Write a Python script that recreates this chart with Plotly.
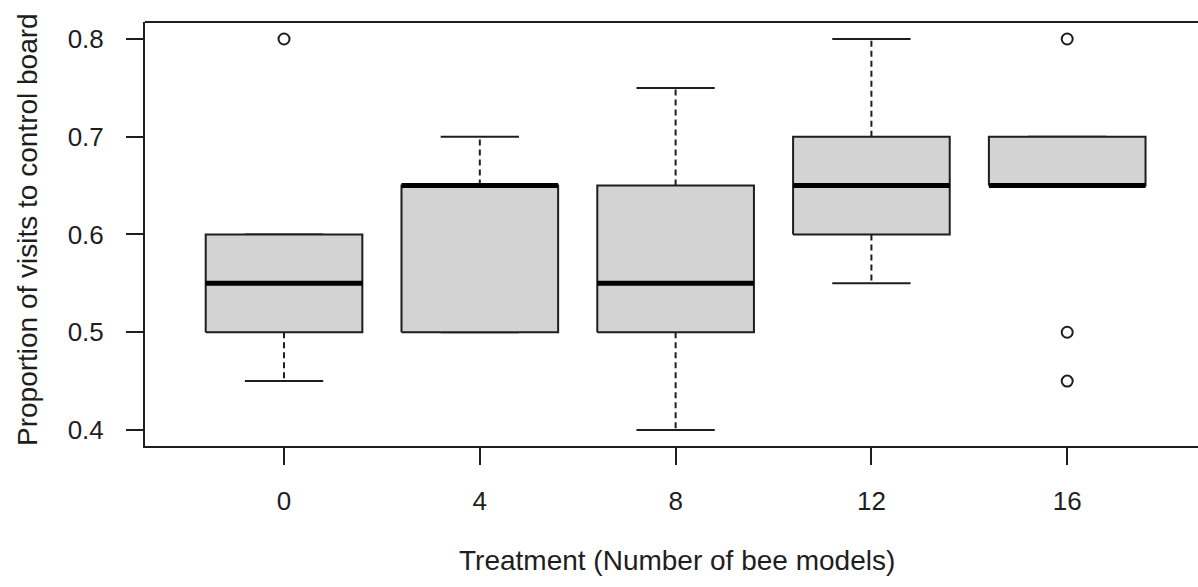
import plotly.graph_objects as go

# ---- data ----
treatments = ["0", "4", "8", "12", "16"]
positions = [1, 2, 3, 4, 5]
lower_whisker = [0.45, 0.50, 0.40, 0.55, 0.65]
q1 = [0.50, 0.50, 0.50, 0.60, 0.65]
median = [0.55, 0.65, 0.55, 0.65, 0.65]
q3 = [0.60, 0.65, 0.65, 0.70, 0.70]
upper_whisker = [0.60, 0.70, 0.75, 0.80, 0.70]
outlier_x = [1, 5, 5, 5]
outlier_y = [0.80, 0.80, 0.50, 0.45]

# ---- styles ----
BOX_HALF = 0.4
CAP_HALF = 0.2
LINE_COL = "#1e1e1e"
FILL_COL = "#d3d3d3"
FONT = "Liberation Sans, Arial, sans-serif"
FS = 26
FS_TITLE = 28
LW = 2

fig = go.Figure()

for i, p in enumerate(positions):
    # dashed whiskers
    for a, b in ((q3[i], upper_whisker[i]), (q1[i], lower_whisker[i])):
        if a != b:
            fig.add_trace(go.Scatter(x=[p, p], y=[a, b], mode="lines",
                                     line=dict(color=LINE_COL, width=LW, dash="6px,4px"),
                                     hoverinfo="skip", showlegend=False))
    # caps
    for w in (upper_whisker[i], lower_whisker[i]):
        fig.add_trace(go.Scatter(x=[p - CAP_HALF, p + CAP_HALF], y=[w, w], mode="lines",
                                 line=dict(color=LINE_COL, width=LW),
                                 hoverinfo="skip", showlegend=False))
    # box
    fig.add_trace(go.Scatter(
        x=[p - BOX_HALF, p + BOX_HALF, p + BOX_HALF, p - BOX_HALF, p - BOX_HALF],
        y=[q1[i], q1[i], q3[i], q3[i], q1[i]],
        mode="lines", fill="toself", fillcolor=FILL_COL,
        line=dict(color=LINE_COL, width=LW),
        hoverinfo="skip", showlegend=False))
    # median
    fig.add_trace(go.Scatter(x=[p - BOX_HALF, p + BOX_HALF], y=[median[i], median[i]],
                             mode="lines", line=dict(color="#000000", width=5),
                             hoverinfo="skip", showlegend=False))

fig.add_trace(go.Scatter(x=outlier_x, y=outlier_y, mode="markers",
                         marker=dict(symbol="circle-open", size=11,
                                     color=LINE_COL, line=dict(width=LW)),
                         hoverinfo="skip", showlegend=False))

L, T, B = 145, 22, 141
W, H = 1198, 587

fig.update_layout(
    width=W, height=H,
    margin=dict(l=L, r=0, t=T, b=B, pad=0),
    plot_bgcolor="white", paper_bgcolor="white",
    font=dict(family=FONT, size=FS, color=LINE_COL),
    xaxis=dict(range=[0.29, 5.668], tickmode="array", tickvals=positions,
               ticktext=treatments, showgrid=False, zeroline=False,
               showline=True, linecolor=LINE_COL, linewidth=LW,
               ticks="outside", ticklen=17, tickwidth=LW, tickcolor=LINE_COL,
               ticklabelstandoff=14,
               tickfont=dict(family=FONT, size=FS, color=LINE_COL)),
    yaxis=dict(range=[0.3836, 0.8174], tickmode="array",
               tickvals=[0.4, 0.5, 0.6, 0.7, 0.8],
               ticktext=["0.4", "0.5", "0.6", "0.7", "0.8"],
               showgrid=False, zeroline=False,
               showline=True, linecolor=LINE_COL, linewidth=LW,
               ticks="outside", ticklen=17, tickwidth=LW, tickcolor=LINE_COL,
               ticklabelstandoff=17,
               tickfont=dict(family=FONT, size=FS, color=LINE_COL)),
    shapes=[dict(type="line", xref="paper", yref="paper", x0=0, x1=1, y0=1, y1=1,
                 line=dict(color=LINE_COL, width=LW))],
    annotations=[
        dict(text="Treatment (Number of bee models)", xref="paper", yref="paper",
             x=(677 - L) / (W - L), y=-(560 - (H - B)) / (H - T - B),
             xanchor="center", yanchor="middle", showarrow=False,
             font=dict(family=FONT, size=FS_TITLE, color=LINE_COL)),
        dict(text="Proportion of visits to control board", xref="paper", yref="paper",
             x=(27 - L) / (W - L), y=(446 - 230) / (H - T - B), textangle=-90,
             xanchor="center", yanchor="middle", showarrow=False,
             font=dict(family=FONT, size=FS_TITLE, color=LINE_COL)),
    ],
)

fig.write_html("out.html")
